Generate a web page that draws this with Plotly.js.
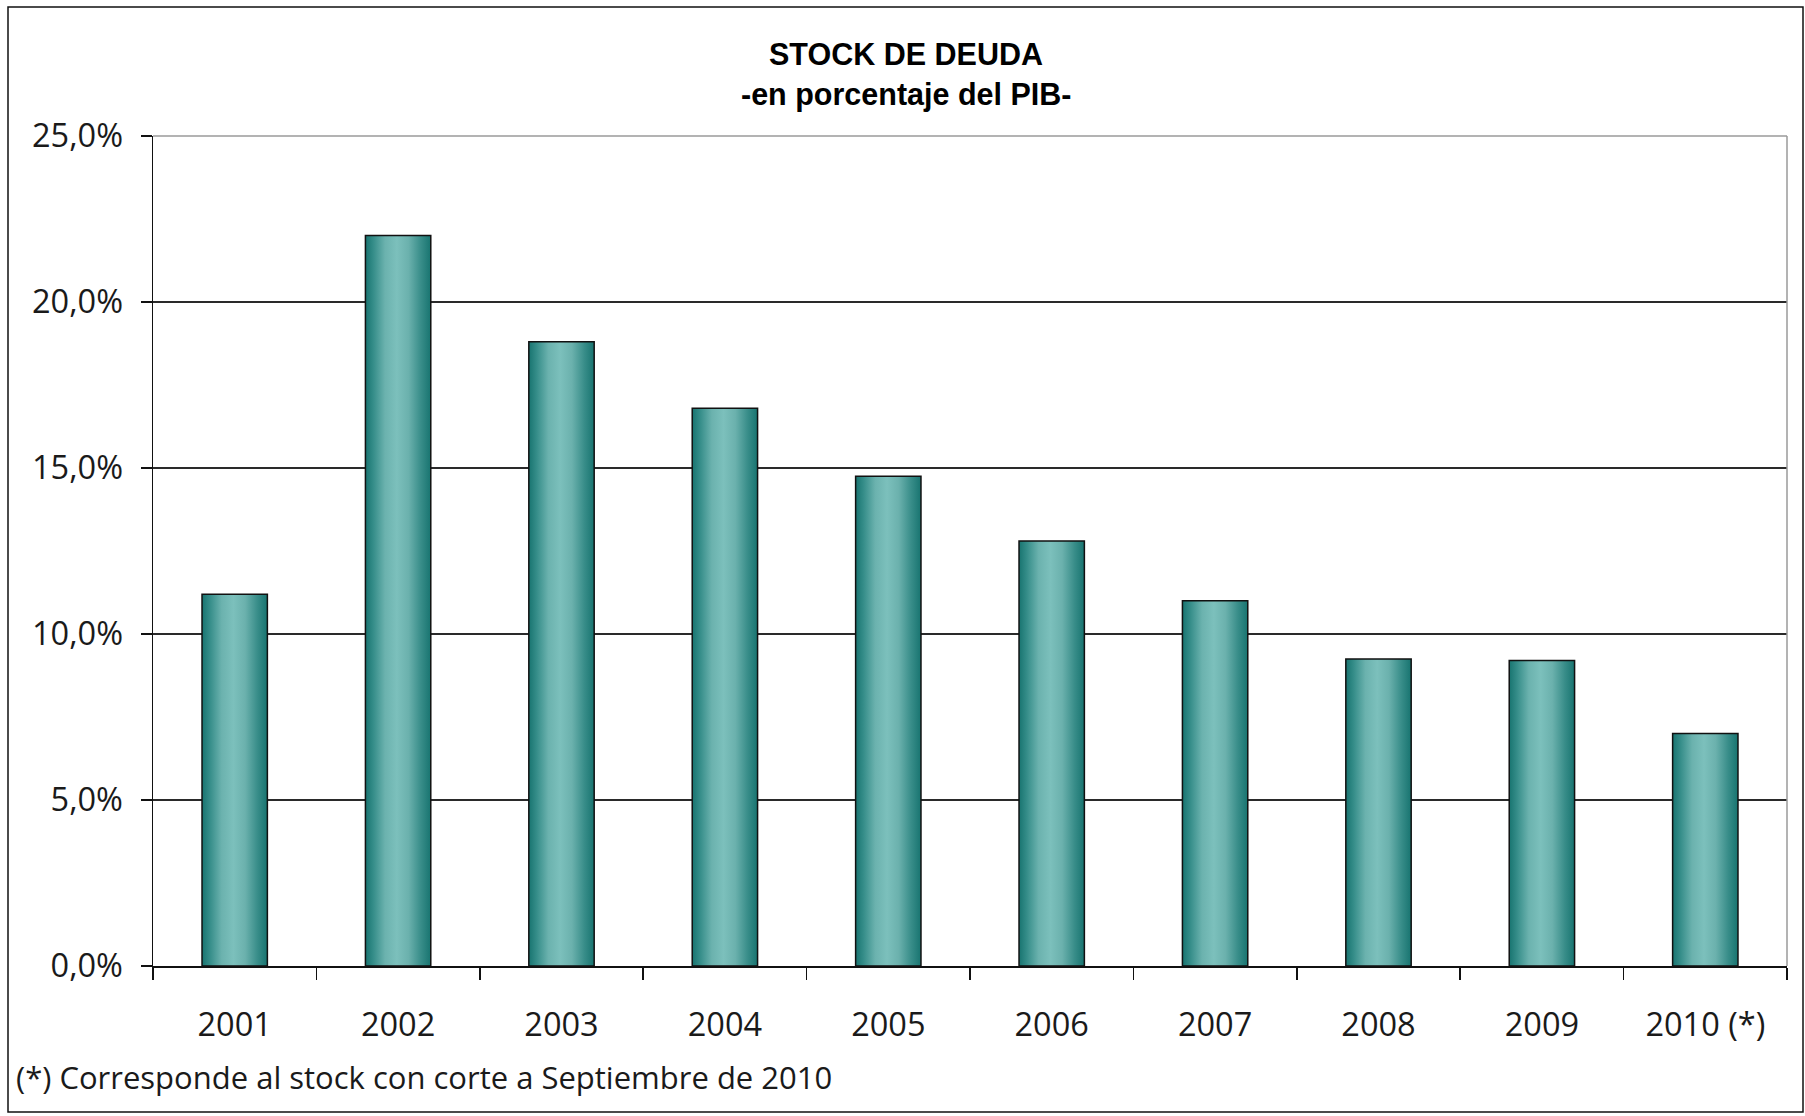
<!DOCTYPE html>
<html>
<head>
<meta charset="utf-8">
<script src="https://cdn.plot.ly/plotly-3.0.1.min.js"></script>
<style>
  html, body { margin: 0; padding: 0; background: #ffffff; }
  #chart { width: 1805px; height: 1116px; }
</style>
</head>
<body>
<div id="chart"></div>
<script>
// ---- Data ----
const years = ["2001", "2002", "2003", "2004", "2005", "2006", "2007", "2008", "2009", "2010 (*)"];
const debtPctGDP = [11.2, 22.0, 18.8, 16.8, 14.75, 12.8, 11.0, 9.25, 9.2, 7.0];
const chartTitle = "STOCK DE DEUDA";
const chartSubtitle = "-en porcentaje del PIB-";
const footnote = "(*) Corresponde al stock con corte a Septiembre de 2010";

// ---- Geometry helpers for decorations (plot area in px) ----
const W = 1805, H = 1116;
const M = { l: 153, r: 18, t: 136, b: 150 };
const plotW = W - M.l - M.r, plotH = H - M.t - M.b;
const px2paperX = px => (px - M.l) / plotW;
const py2paperY = py => (H - M.b - py) / plotH;

const tickFont = { family: "Open Sans, sans-serif", size: 32.5, color: "#1a1a1a" };
const titleFont = { family: "Liberation Sans, Arial, sans-serif", size: 30.5, color: "#000000", weight: "bold" };

const trace = {
  type: "bar",
  x: years,
  y: debtPctGDP,
  marker: { color: "#4a9e9a", line: { color: "#111111", width: 1.5 } },
  hoverinfo: "x+y"
};

const layout = {
  width: W,
  height: H,
  margin: M,
  paper_bgcolor: "#ffffff",
  plot_bgcolor: "#ffffff",
  separators: ",.",
  showlegend: false,
  bargap: 0.6,
  title: {
    text: chartTitle,
    font: titleFont,
    x: 906 / W, xref: "container", xanchor: "center",
    y: 1 - 54 / H, yref: "container", yanchor: "middle"
  },
  xaxis: {
    type: "category",
    tickson: "boundaries",
    ticks: "outside",
    ticklen: 12,
    tickwidth: 1.5,
    tickcolor: "#111111",
    showline: true,
    linecolor: "#111111",
    linewidth: 1.5,
    showgrid: false,
    tickfont: tickFont,
    ticklabelstandoff: 29,
    fixedrange: true
  },
  yaxis: {
    range: [0, 25],
    dtick: 5,
    tick0: 0,
    tickformat: ".1f",
    ticksuffix: "%",
    ticks: "outside",
    ticklen: 11,
    tickwidth: 1.5,
    tickcolor: "#111111",
    showline: true,
    linecolor: "#111111",
    linewidth: 1.5,
    showgrid: true,
    gridcolor: "#2a2a2a",
    gridwidth: 1.2,
    zeroline: false,
    tickfont: tickFont,
    ticklabelstandoff: 11,
    fixedrange: true
  },
  annotations: [
    {
      text: chartSubtitle,
      xref: "paper", yref: "paper",
      x: px2paperX(906), y: py2paperY(95),
      xanchor: "center", yanchor: "middle",
      showarrow: false,
      font: titleFont
    },
    {
      text: footnote,
      xref: "paper", yref: "paper",
      x: px2paperX(14), y: py2paperY(1077),
      xanchor: "left", yanchor: "middle",
      showarrow: false,
      font: { family: "Open Sans, sans-serif", size: 31, color: "#1a1a1a" }
    }
  ],
  shapes: [
    // plot-area border (top and right), grey
    { type: "line", xref: "paper", yref: "paper", x0: 0, x1: 1, y0: 1, y1: 1,
      line: { color: "#9a9a9a", width: 1.5 }, layer: "above" },
    { type: "line", xref: "paper", yref: "paper", x0: 1, x1: 1, y0: 0, y1: 1,
      line: { color: "#9a9a9a", width: 1.5 }, layer: "above" },
    // outer chart frame
    { type: "rect", xref: "paper", yref: "paper",
      x0: px2paperX(8), x1: px2paperX(1803), y0: py2paperY(1112), y1: py2paperY(7),
      line: { color: "#111111", width: 1.5 }, fillcolor: "rgba(0,0,0,0)", layer: "above" }
  ]
};

Plotly.newPlot("chart", [trace], layout, { displayModeBar: false, staticPlot: true, responsive: false })
  .then(gd => {
    // horizontal cylinder-like gradient fill for bars
    const svg = gd.querySelector("svg.main-svg");
    const ns = "http://www.w3.org/2000/svg";
    let defs = svg.querySelector("defs");
    if (!defs) { defs = document.createElementNS(ns, "defs"); svg.insertBefore(defs, svg.firstChild); }
    const grad = document.createElementNS(ns, "linearGradient");
    grad.setAttribute("id", "barGrad");
    grad.setAttribute("x1", "0"); grad.setAttribute("y1", "0");
    grad.setAttribute("x2", "1"); grad.setAttribute("y2", "0");
    const stops = [
      [0, "#187470"], [0.12, "#358d89"], [0.3, "#6bb2ae"], [0.48, "#7cc0bc"],
      [0.66, "#6bb1ad"], [0.85, "#388d89"], [1, "#187470"]
    ];
    stops.forEach(([o, c]) => {
      const s = document.createElementNS(ns, "stop");
      s.setAttribute("offset", o);
      s.setAttribute("stop-color", c);
      grad.appendChild(s);
    });
    defs.appendChild(grad);
    gd.querySelectorAll(".trace.bars .point path").forEach(p => {
      p.style.fill = "url(#barGrad)";
    });
  });
</script>
</body>
</html>
